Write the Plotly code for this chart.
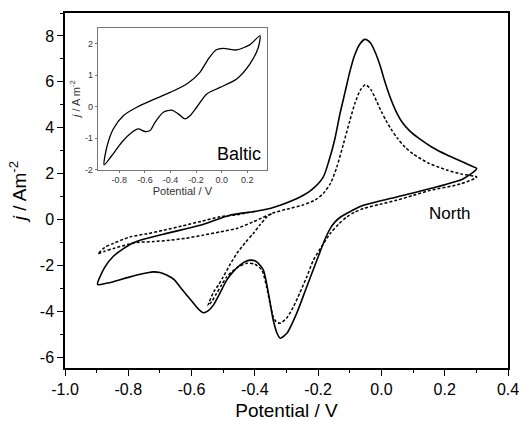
import plotly.graph_objects as go

# ---------------- data ----------------
solid_v = [-0.897, -0.87, -0.847, -0.80, -0.773, -0.74, -0.721, -0.70, -0.679, -0.655, -0.637,
           -0.615, -0.594, -0.575, -0.563, -0.548, -0.531, -0.51, -0.489, -0.467, -0.447, -0.43,
           -0.415, -0.40, -0.389, -0.373, -0.357, -0.342, -0.330, -0.320, -0.299, -0.268, -0.236,
           -0.194, -0.175, -0.160, -0.145, -0.130, -0.110, -0.085, -0.057, 0.048, 0.154, 0.259, 0.301,
           0.285, 0.25, 0.206, 0.160, 0.122, 0.090, 0.065, 0.045, 0.027, 0.010, -0.004, -0.020,
           -0.035, -0.052, -0.068, -0.085, -0.099, -0.115, -0.131,
           -0.147, -0.165, -0.184, -0.220, -0.257, -0.320, -0.352, -0.40, -0.479, -0.573, -0.689,
           -0.784, -0.847, -0.875, -0.897]
solid_j = [-2.83, -2.78, -2.71, -2.52, -2.42, -2.32, -2.28, -2.31, -2.42, -2.62, -2.93,
           -3.30, -3.65, -3.95, -4.06, -3.98, -3.73, -3.20, -2.64, -2.25, -1.99, -1.83,
           -1.77, -1.80, -1.91, -2.20, -3.22, -4.38, -4.95, -5.17, -4.96, -4.09, -2.93,
           -1.41, -0.75, -0.35, -0.08, 0.10, 0.26, 0.45, 0.62, 0.98, 1.35, 1.78, 2.22,
           2.33, 2.55, 2.82, 3.15, 3.50, 3.85, 4.25, 4.75, 5.35, 6.05, 6.70, 7.30,
           7.70, 7.85, 7.65, 7.15, 6.49, 5.55, 4.61,
           3.52, 2.60, 1.85, 1.30, 0.98, 0.62, 0.48, 0.35, 0.19, -0.25, -0.64,
           -1.01, -1.60, -2.10, -2.83]

dashed_v = [-0.40, -0.457, -0.51, -0.57, -0.63, -0.689, -0.74, -0.795, -0.847, -0.875, -0.896,
            -0.875, -0.847, -0.80, -0.773, -0.72, -0.668, -0.62, -0.563, -0.51, -0.457, -0.405, -0.345,
            -0.30, -0.25, -0.21, -0.184, -0.16, -0.141, -0.12, -0.10, -0.083, -0.066, -0.050,
            -0.033, -0.015, 0.000, 0.015, 0.030, 0.050, 0.075, 0.101, 0.15, 0.206, 0.25, 0.301,
            0.25, 0.154, 0.10, 0.048, -0.005, -0.057, -0.085, -0.110, -0.135, -0.162, -0.19,
            -0.215, -0.236, -0.258, -0.278, -0.30, -0.320, -0.333, -0.342, -0.353, -0.363,
            -0.378, -0.40, -0.426, -0.452, -0.47, -0.489, -0.505, -0.521, -0.535, -0.548,
            -0.53, -0.515, -0.50, -0.48, -0.457, -0.43, -0.405, -0.385, -0.363, -0.345]
dashed_j = [0.36, 0.21, 0.12, -0.08, -0.28, -0.47, -0.62, -0.76, -1.04, -1.22, -1.50,
            -1.38, -1.26, -1.08, -1.00, -0.96, -0.90, -0.82, -0.68, -0.54, -0.39, -0.10, 0.27,
            0.45, 0.62, 0.85, 1.13, 1.60, 2.29, 3.30, 4.30, 5.10, 5.65, 5.88,
            5.65, 5.15, 4.70, 4.30, 3.95, 3.55, 3.15, 2.85, 2.45, 2.16, 1.99, 1.85,
            1.55, 1.27, 1.05, 0.84, 0.66, 0.48, 0.32, 0.11, -0.20, -0.61, -1.20,
            -1.77, -2.50, -3.20, -3.80, -4.30, -4.52, -4.45, -4.23, -3.60, -2.93,
            -2.20, -1.95, -1.91, -2.06, -2.25, -2.50, -2.85, -3.22, -3.55, -3.75,
            -3.15, -2.85, -2.50, -2.00, -1.48, -1.00, -0.61, -0.25, 0.10, 0.27]

baltic_v = [-0.919, -0.898, -0.847, -0.769, -0.664, -0.534, -0.404, -0.273, -0.170, -0.105,
            -0.045, 0.013, 0.117, 0.221, 0.299,
            0.286, 0.221, 0.117, -0.013, -0.117, -0.195, -0.248, -0.287, -0.339, -0.391,
            -0.456, -0.521, -0.560, -0.599, -0.652, -0.703, -0.781, -0.859, -0.919]
baltic_j = [-1.85, -1.29, -0.71, -0.29, -0.02, 0.22, 0.45, 0.72, 1.09, 1.51,
            1.80, 1.85, 1.80, 1.97, 2.25,
            1.88, 1.36, 0.88, 0.61, 0.40, -0.02, -0.29, -0.39, -0.23, -0.11,
            -0.18, -0.50, -0.76, -0.79, -0.71, -0.82, -1.13, -1.56, -1.85]

main_xticks = [-1.0, -0.8, -0.6, -0.4, -0.2, 0.0, 0.2, 0.4]
main_xticklabels = ["-1.0", "-0.8", "-0.6", "-0.4", "-0.2", "0.0", "0.2", "0.4"]
main_yticks = [-6, -4, -2, 0, 2, 4, 6, 8]
main_yticklabels = ["-6", "-4", "-2", "0", "2", "4", "6", "8"]
inset_xticks = [-0.8, -0.6, -0.4, -0.2, 0.0, 0.2]
inset_xticklabels = ["-0.8", "-0.6", "-0.4", "-0.2", "0.0", "0.2"]
inset_yticks = [-2, -1, 0, 1, 2]
inset_yticklabels = ["-2", "-1", "0", "1", "2"]

FONT = "Liberation Sans, Arial, sans-serif"

fig = go.Figure()
fig.add_trace(go.Scatter(x=solid_v, y=solid_j, mode="lines",
                         line=dict(color="black", width=1.6, shape="spline", smoothing=0.7),
                         showlegend=False, xaxis="x", yaxis="y"))
fig.add_trace(go.Scatter(x=dashed_v, y=dashed_j, mode="lines",
                         line=dict(color="black", width=1.5, dash="3px,2px", shape="spline", smoothing=0.7),
                         showlegend=False, xaxis="x", yaxis="y"))
fig.add_trace(go.Scatter(x=baltic_v, y=baltic_j, mode="lines",
                         line=dict(color="black", width=1.3, shape="spline", smoothing=0.7),
                         showlegend=False, xaxis="x2", yaxis="y2"))

fig.update_layout(
    width=520, height=421,
    margin=dict(l=65, r=12, t=13, b=53),
    paper_bgcolor="white", plot_bgcolor="white",
    font=dict(family=FONT, color="black"),
    xaxis=dict(range=[-1.0, 0.4], tickvals=main_xticks, ticktext=main_xticklabels,
               automargin=False,
               showgrid=False, zeroline=False, showline=True, mirror=True,
               linecolor="black", linewidth=1.5, ticks="outside", ticklen=6, tickwidth=1.2,
               tickcolor="black", tickfont=dict(size=16),
               minor=dict(dtick=0.1, tick0=0, ticks="outside", ticklen=3, tickcolor="black", tickwidth=1),
               title=dict(text="Potential / V", font=dict(size=19), standoff=8)),
    yaxis=dict(range=[-6.47, 9.0], tickvals=main_yticks, ticktext=main_yticklabels,
               automargin=False,
               showgrid=False, zeroline=False, showline=True, mirror=True,
               linecolor="black", linewidth=1.5, ticks="outside", ticklen=6, tickwidth=1.2,
               tickcolor="black", tickfont=dict(size=16),
               minor=dict(dtick=1, tick0=0, ticks="outside", ticklen=3, tickcolor="black", tickwidth=1),
               title=dict(text="<i>j</i> / Am<sup>-2</sup>", font=dict(size=19), standoff=8)),
    xaxis2=dict(domain=[0.0738, 0.456], anchor="y2", range=[-0.969, 0.354],
                tickvals=inset_xticks, ticktext=inset_xticklabels,
                showgrid=False, zeroline=False, showline=True, mirror=True,
                linecolor="#777777", linewidth=1, ticks="outside", ticklen=2, tickcolor="#777777",
                tickfont=dict(size=9, color="#333333"),
                title=dict(text="Potential / V", font=dict(size=11, color="#333333"), standoff=2)),
    yaxis2=dict(domain=[0.5589, 0.9589], anchor="x2", range=[-2.0, 2.51],
                tickvals=inset_yticks, ticktext=inset_yticklabels,
                showgrid=False, zeroline=False, showline=True, mirror=True,
                linecolor="#777777", linewidth=1, ticks="outside", ticklen=2, tickcolor="#777777",
                tickfont=dict(size=9, color="#333333"),
                title=dict(text="<i>j</i> / A m<sup>-2</sup>", font=dict(size=11, color="#333333"), standoff=2)),
    annotations=[
        dict(text="North", x=0.218, y=0.25, xref="x", yref="y", showarrow=False,
             font=dict(size=17, color="black")),
        dict(text="Baltic", x=0.135, y=-1.52, xref="x2", yref="y2", showarrow=False,
             font=dict(size=18, color="black")),
    ],
)

fig.write_html("out.html")
